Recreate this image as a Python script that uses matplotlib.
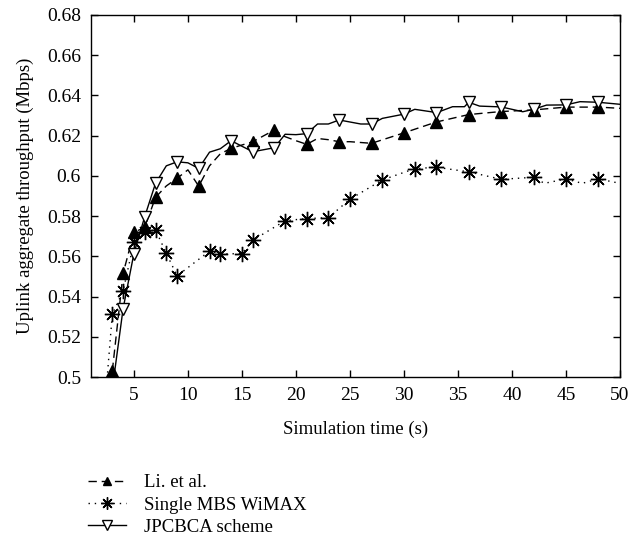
import matplotlib
matplotlib.use("Agg")
import matplotlib.pyplot as plt

# ---- data ----
li_x = [3, 4, 5, 6, 7, 8, 9, 10, 11, 12, 13, 14, 16, 18, 19, 20, 21, 22, 23, 24, 25, 27, 30, 33, 36, 39, 42, 45, 48, 50]
li_y = [0.503, 0.5515, 0.5719, 0.5744, 0.5893, 0.5950, 0.5988, 0.6030, 0.5949, 0.6050, 0.6110, 0.6137, 0.6170, 0.6228,
        0.6195, 0.6175, 0.6157, 0.6186, 0.6180, 0.6170, 0.6170, 0.6162, 0.6214, 0.6268, 0.6305, 0.6320, 0.6328, 0.6342,
        0.6342, 0.6336]
li_marks = [3, 4, 5, 6, 7, 9, 11, 14, 16, 18, 21, 24, 27, 30, 33, 36, 39, 42, 45, 48]

mbs_x = [2, 3, 4, 5, 6, 7, 8, 9, 12, 13, 15, 16, 19, 21, 23, 25, 28, 31, 33, 36, 39, 42, 43, 45, 46.5, 48, 50]
mbs_y = [0.465, 0.5312, 0.5428, 0.5670, 0.5720, 0.5732, 0.5615, 0.5503, 0.5626, 0.5611, 0.5614, 0.5680, 0.5777, 0.5788,
         0.5792, 0.5884, 0.5980, 0.6036, 0.6043, 0.6020, 0.5983, 0.5993, 0.5963, 0.5985, 0.5963, 0.5985, 0.5963]
mbs_marks = [3, 4, 5, 6, 7, 8, 9, 12, 13, 15, 16, 19, 21, 23, 25, 28, 31, 33, 36, 39, 42, 45, 48]

jp_x = [3, 4, 5, 6, 7, 8, 9, 10, 11, 12, 13, 14, 16, 18, 19, 20, 21, 22, 23, 24, 26, 27, 28, 30, 31, 32.5, 33, 34.5,
        35.6, 36, 37, 39, 41, 42, 43.2, 45, 46.3, 48, 50]
jp_y = [0.494, 0.534, 0.5614, 0.5797, 0.5963, 0.6050, 0.6070, 0.6065, 0.6037, 0.6118, 0.6135, 0.6175, 0.6120, 0.6140,
        0.6207, 0.6205, 0.6210, 0.6258, 0.6258, 0.6278, 0.6258, 0.6258, 0.6286, 0.6307, 0.6331, 0.6319, 0.6314, 0.6344,
        0.6344, 0.6366, 0.6347, 0.6343, 0.6319, 0.6331, 0.6352, 0.6353, 0.6369, 0.6366, 0.6356]
jp_marks = [4, 5, 6, 7, 9, 11, 14, 16, 18, 21, 24, 27, 30, 33, 36, 39, 42, 45, 48]

labels = ["Li. et al.", "Single MBS WiMAX", "JPCBCA scheme"]
x_ticks = [5, 10, 15, 20, 25, 30, 35, 40, 45, 50]
y_ticks = [0.5, 0.52, 0.54, 0.56, 0.58, 0.6, 0.62, 0.64, 0.66, 0.68]
y_tick_labels = ["0.5", "0.52", "0.54", "0.56", "0.58", "0.6", "0.62", "0.64", "0.66", "0.68"]

plt.rcParams['font.family'] = ['Liberation Serif', 'DejaVu Serif']

fig = plt.figure(figsize=(6.4, 5.37), dpi=100)
ax = fig.add_axes([90.7 / 640, 1 - 377 / 537, (620 - 90.7) / 640, (377 - 15) / 537])

def idx(xs, marks):
    return [xs.index(m) for m in marks]

ax.plot(li_x, li_y, color='black', lw=1.0, linestyle=(0, (6, 3.5)), marker='^', markersize=8,
        markerfacecolor='black', markeredgecolor='black', markevery=idx(li_x, li_marks), label=labels[0])
ax.plot(mbs_x, mbs_y, color='black', lw=1.0, linestyle=(0, (1, 3.5)), marker=(8, 2, 0), markersize=11,
        markeredgewidth=1.0, markevery=idx(mbs_x, mbs_marks), label=labels[1])
mx = [mbs_x[i] for i in idx(mbs_x, mbs_marks)]
my = [mbs_y[i] for i in idx(mbs_x, mbs_marks)]
ax.plot(mx, my, linestyle='none', marker='o', markersize=3, color='black')
ax.plot(jp_x, jp_y, color='black', lw=1.0, linestyle='-', marker='v', markersize=9,
        markerfacecolor='white', markeredgecolor='black', markeredgewidth=1.0,
        markevery=idx(jp_x, jp_marks), label=labels[2])

ax.set_xlim(1, 50)
ax.set_ylim(0.5, 0.68)
ax.set_xticks(x_ticks)
ax.set_yticks(y_ticks)
ax.set_yticklabels(y_tick_labels)
ax.tick_params(direction='in', top=True, right=True, length=5, width=1, labelsize=14, pad=7)
for s in ax.spines.values():
    s.set_linewidth(1.0)

ax.set_xlabel("Simulation time (s)", fontsize=13.5, labelpad=12)
ax.set_ylabel("Uplink aggregate throughput (Mbps)", fontsize=13.5, labelpad=9)

h, l = ax.get_legend_handles_labels()
fig.legend(h, l, loc='upper left', bbox_to_anchor=(88 / 640, 1 - 474 / 537), frameon=False,
           fontsize=13.5, handlelength=2.0, handletextpad=1.0, labelspacing=0.28, borderpad=0,
           borderaxespad=0, markerscale=0.8)

fig.savefig("out.png", dpi=100)
